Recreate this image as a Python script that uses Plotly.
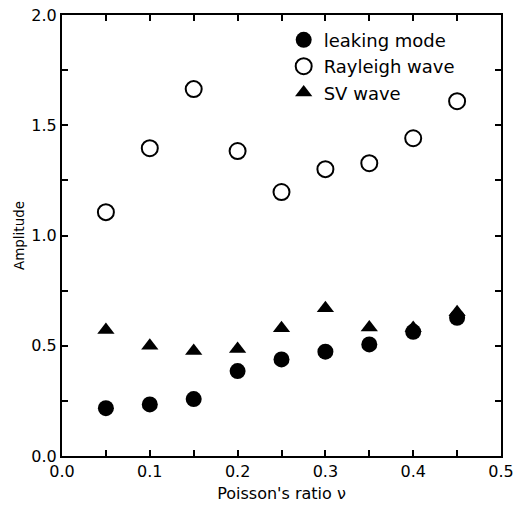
import plotly.graph_objects as go

nu = [0.05, 0.10, 0.15, 0.20, 0.25, 0.30, 0.35, 0.40, 0.45]
leaking_mode = [0.217, 0.234, 0.258, 0.385, 0.438, 0.473, 0.506, 0.563, 0.627]
rayleigh_wave = [1.106, 1.396, 1.664, 1.383, 1.197, 1.301, 1.328, 1.441, 1.609]
sv_wave = [0.571, 0.500, 0.476, 0.485, 0.579, 0.670, 0.583, 0.580, 0.652]

FONT = "DejaVu Sans"

fig = go.Figure()
fig.add_trace(go.Scatter(x=nu, y=leaking_mode, mode="markers", name="leaking mode",
                         marker=dict(symbol="circle", size=16, color="black")))
fig.add_trace(go.Scatter(x=nu, y=rayleigh_wave, mode="markers", name="Rayleigh wave",
                         marker=dict(symbol="circle-open", size=16, color="black",
                                     line=dict(width=2, color="black"))))
fig.add_trace(go.Scatter(x=nu, y=sv_wave, mode="markers", name="SV wave",
                         marker=dict(symbol="triangle-up", size=15, color="black")))

axis_common = dict(
    showgrid=False, zeroline=False, showline=True, linecolor="black", linewidth=2,
    mirror="ticks", ticks="inside", ticklen=6, tickwidth=1.5, tickcolor="black",
    tickfont=dict(family=FONT, size=16, color="black"), automargin=False,
)

fig.update_xaxes(range=[0, 0.5], dtick=0.1, tickformat=".1f",
                 minor=dict(dtick=0.05, ticks="inside", ticklen=6, tickwidth=1.5, tickcolor="black"),
                 title=dict(text="Poisson's ratio ν", font=dict(family=FONT, size=16, color="black"),
                            standoff=8),
                 **axis_common)
fig.update_yaxes(range=[0, 2.0], dtick=0.5, tickformat=".1f",
                 minor=dict(dtick=0.25, ticks="inside", ticklen=6, tickwidth=1.5, tickcolor="black"),
                 title=dict(text="Amplitude", font=dict(family=FONT, size=13.5, color="black"),
                            standoff=4),
                 **axis_common)

fig.update_layout(
    width=515, height=509,
    margin=dict(l=62, r=14, t=15, b=53),
    plot_bgcolor="white", paper_bgcolor="white",
    font=dict(family=FONT, color="black"),
    legend=dict(x=0.505, y=0.985, xanchor="left", yanchor="top",
                font=dict(family=FONT, size=18, color="black"),
                bgcolor="rgba(0,0,0,0)", itemwidth=30, tracegroupgap=0),
)

fig.write_html("out.html", config={"displayModeBar": False},
               post_script="document.body.style.margin='0';document.body.style.padding='0';")
